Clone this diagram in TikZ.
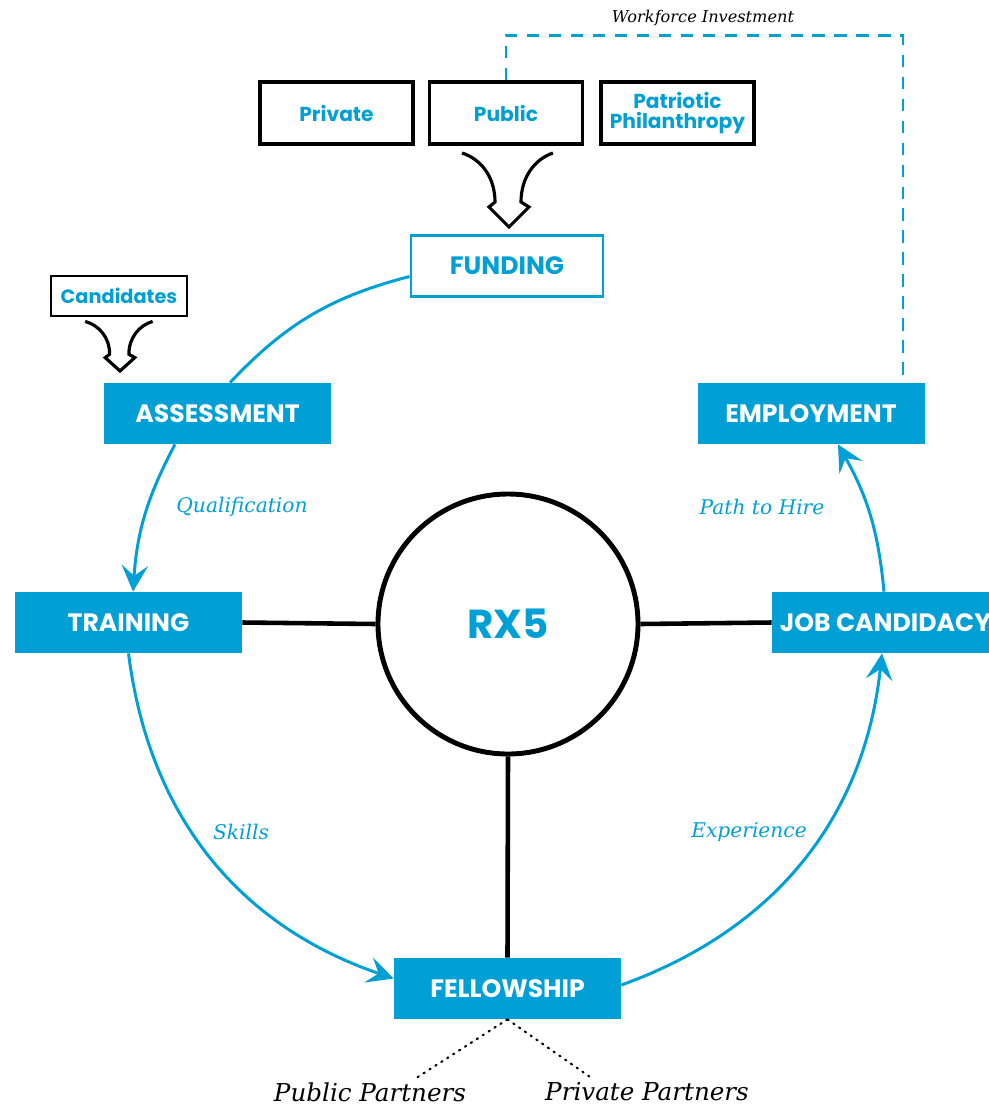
\documentclass[tikz,border=0pt]{standalone}
\usepackage{fontspec}
\setsansfont{Poppins}
\newfontfamily\slabit{DejaVu Serif}
\usetikzlibrary{arrows.meta}
\definecolor{rxblue}{RGB}{0,160,214}
\begin{document}
\begin{tikzpicture}[
  stage/.style={fill=rxblue, text=white, font=\sffamily\bfseries\fontsize{14.3}{16}\selectfont, minimum width=4.54cm, minimum height=1.22cm, inner sep=0pt},
  source/.style={draw, line width=1.8pt, fill=white, text=rxblue, font=\sffamily\bfseries\fontsize{11.5}{13}\selectfont, minimum width=3.06cm, minimum height=1.24cm, inner sep=0pt, align=center},
  note/.style={text=rxblue, font=\slabit\itshape\fontsize{11.5}{13}\selectfont},
  partner/.style={font=\slabit\itshape\fontsize{14}{16}\selectfont},
  flow/.style={rxblue, line width=1.7pt, -{Stealth[length=15pt,width=15pt,inset=6pt]}},
  flowline/.style={rxblue, line width=1.7pt},
  spoke/.style={line width=2.6pt},
  mergearrow/.pic={
    \draw[x=0.02cm, y=0.02cm, line width=1.8pt, line join=miter]
      (-47,74) .. controls (-28,68) and (-14,50) .. (-14,25) -- (-20,20) -- (0,0)
      -- (20,20) -- (12,25) .. controls (12,50) and (26,68) .. (44,74);
  }
]
\useasboundingbox (0,0) rectangle (19.78,-22.16);
\node[source] (private) at (6.73,-2.26) {Private};
\node[source] (public) at (10.12,-2.26) {Public};
\node[source] (patriotic) at (13.55,-2.26) {Patriotic\\[-2pt]Philanthropy};
\node[draw=rxblue, line width=1.7pt, text=rxblue, font=\sffamily\bfseries\fontsize{14.3}{16}\selectfont, minimum width=3.84cm, minimum height=1.22cm, inner sep=0pt] (funding) at (10.14,-5.31) {FUNDING};
\node[source, minimum width=2.72cm, minimum height=0.8cm, line width=1.5pt, font=\sffamily\bfseries\fontsize{11}{13}\selectfont] (candidates) at (2.38,-5.92) {Candidates};
\node[stage] (assessment) at (4.35,-8.27) {ASSESSMENT};
\node[stage] (employment) at (16.22,-8.27) {EMPLOYMENT};
\node[stage] (training) at (2.57,-12.45) {TRAINING};
\node[stage] (jobcand) at (17.71,-12.45) {JOB CANDIDACY};
\node[stage] (fellowship) at (10.15,-19.77) {FELLOWSHIP};
\node[draw, circle, line width=2.8pt, minimum size=5.2cm, text=rxblue, font=\sffamily\bfseries\fontsize{23}{25}\selectfont] (rx5) at (10.16,-12.48) {RX5};
\node[note] (qual) at (4.84,-10.14) {Qualification};
\node[note] (hire) at (15.24,-10.14) {Path to Hire};
\node[note] (skills) at (4.82,-16.64) {Skills};
\node[note] (exper) at (14.98,-16.64) {Experience};
\node[font=\slabit\itshape\fontsize{9.2}{11}\selectfont] (workforce) at (14.06,-0.36) {Workforce Investment};
\node[partner] (pubpart) at (7.40,-21.84) {Public Partners};
\node[partner] (privpart) at (12.94,-21.84) {Private Partners};
\pic at (10.18,-4.54) {mergearrow};
\pic[xscale=0.74, yscale=0.67] at (2.40,-7.42) {mergearrow};
\draw[flowline] ([yshift=-0.22cm]funding.west) to[bend right=16] ([xshift=0.25cm]assessment.north);
\draw[flow] ([xshift=-0.85cm]assessment.south) to[bend right=12] ([xshift=0.09cm]training.north);
\draw[flow] (training.south) to[bend right=32] ([yshift=0.2cm]fellowship.west);
\draw[flow] ([yshift=0.07cm]fellowship.east) to[bend right=32] ([xshift=-0.07cm]jobcand.south);
\draw[flow] ([xshift=-0.03cm]jobcand.north) to[bend right=12] ([xshift=0.54cm]employment.south);
\draw[spoke] (training.east) -- (rx5.west);
\draw[spoke] (rx5.east) -- (jobcand.west);
\draw[spoke] (rx5.south) -- (fellowship.north);
\draw[rxblue, line width=1.6pt, dash pattern=on 7pt off 5.5pt] (public.north) -- ++(0,0.9) -| ([xshift=1.84cm]employment.north);
\draw[line width=1.2pt, dash pattern=on 0.8pt off 3.2pt, line cap=round] (fellowship.south) -- ([xshift=0.9cm, yshift=-0.05cm]pubpart.north);
\draw[line width=1.2pt, dash pattern=on 0.8pt off 3.2pt, line cap=round] (fellowship.south) -- ([xshift=-1.08cm, yshift=-0.05cm]privpart.north);
\end{tikzpicture}
\end{document}
